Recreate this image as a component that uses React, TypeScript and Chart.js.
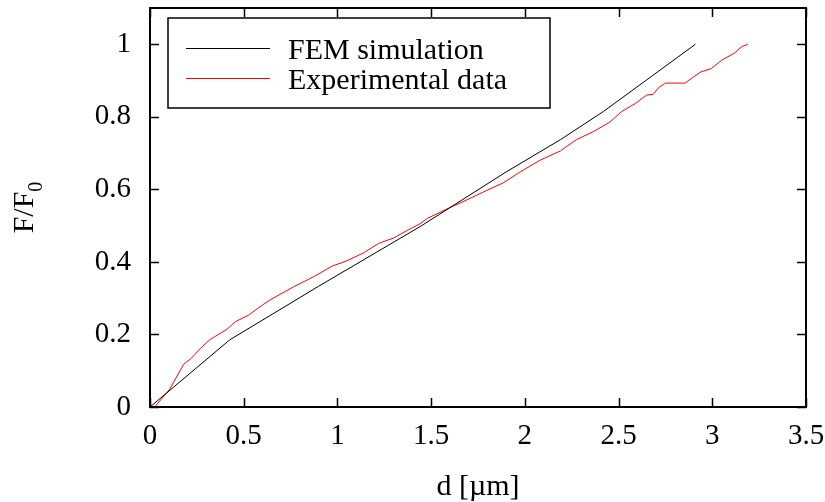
import React, { useEffect, useRef } from "react";
import { Chart, registerables } from "chart.js";

Chart.register(...registerables);

const FEM_LABEL = "FEM simulation";
const EXP_LABEL = "Experimental data";

const femX = [0, 0.425, 0.9, 1.44, 1.9, 2.19, 2.42, 2.91];
const femY = [0, 0.185, 0.333, 0.497, 0.648, 0.737, 0.815, 1.0];

const expX = [
  0.025, 0.105, 0.18, 0.22, 0.27, 0.32, 0.41, 0.455, 0.525, 0.6, 0.64, 0.765,
  0.88, 0.97, 1.05, 1.14, 1.22, 1.3, 1.37, 1.44, 1.48, 1.58, 1.67, 1.78, 1.885,
  1.975, 2.08, 2.19, 2.275, 2.365, 2.455, 2.515, 2.59, 2.65, 2.685, 2.715, 2.75,
  2.855, 2.9, 2.94, 2.995, 3.05, 3.12, 3.155, 3.19,
];
const expY = [
  0, 0.049, 0.118, 0.134, 0.162, 0.186, 0.214, 0.235, 0.253, 0.281, 0.295, 0.331,
  0.361, 0.388, 0.403, 0.425, 0.451, 0.466, 0.486, 0.505, 0.52, 0.545, 0.566,
  0.593, 0.618, 0.648, 0.68, 0.706, 0.737, 0.759, 0.786, 0.814, 0.837, 0.86,
  0.862, 0.881, 0.893, 0.893, 0.91, 0.924, 0.933, 0.956, 0.976, 0.993, 1.0,
];

const xTicks = [0, 0.5, 1, 1.5, 2, 2.5, 3, 3.5];
const yTicks = [0, 0.2, 0.4, 0.6, 0.8, 1];

const X_TITLE = "d [µm]";
const Y_TITLE_MAIN = "F/F";
const Y_TITLE_SUB = "0";

const FONT = "'Liberation Serif', 'Times New Roman', serif";

const frame = {
  id: "gnuplotFrame",
  afterDraw(chart: any) {
    const { ctx, chartArea } = chart;
    const { left, right, top, bottom } = chartArea;
    const xs = chart.scales.x;
    const ys = chart.scales.y;
    ctx.save();
    ctx.strokeStyle = "#000";
    ctx.lineWidth = 1.5;
    const tl = 9;
    ctx.beginPath();
    xTicks.forEach((v) => {
      const px = Math.round(xs.getPixelForValue(v)) + 0.5;
      ctx.moveTo(px, bottom);
      ctx.lineTo(px, bottom - tl);
      ctx.moveTo(px, top);
      ctx.lineTo(px, top + tl);
    });
    yTicks.forEach((v) => {
      const py = Math.round(ys.getPixelForValue(v)) + 0.5;
      ctx.moveTo(left, py);
      ctx.lineTo(left + tl, py);
      ctx.moveTo(right, py);
      ctx.lineTo(right - tl, py);
    });
    ctx.stroke();
    ctx.lineWidth = 2;
    ctx.strokeRect(left, top, right - left, bottom - top);

    // legend
    ctx.lineWidth = 1.5;
    ctx.fillStyle = "#fff";
    ctx.fillRect(168, 18, 382, 90);
    ctx.strokeStyle = "#000";
    ctx.strokeRect(168, 18, 382, 90);
    const ds = chart.data.datasets;
    const rows = [48, 78];
    ds.forEach((d: any, i: number) => {
      ctx.beginPath();
      ctx.strokeStyle = d.borderColor;
      ctx.lineWidth = 1;
      ctx.moveTo(186, rows[i] + 0.5);
      ctx.lineTo(270, rows[i] + 0.5);
      ctx.stroke();
      ctx.fillStyle = "#000";
      ctx.font = `30px ${FONT}`;
      ctx.textAlign = "left";
      ctx.textBaseline = "alphabetic";
      ctx.fillText(d.label, 288, rows[i] + 11);
    });

    ctx.fillStyle = "#000";
    ctx.font = `30px ${FONT}`;
    ctx.textAlign = "center";
    ctx.textBaseline = "middle";
    ctx.fillText(X_TITLE, (left + right) / 2, 487);

    ctx.save();
    ctx.translate(33, (top + bottom) / 2);
    ctx.rotate(-Math.PI / 2);
    ctx.textAlign = "left";
    ctx.textBaseline = "alphabetic";
    ctx.font = `30px ${FONT}`;
    const w1 = ctx.measureText(Y_TITLE_MAIN).width;
    ctx.font = `20px ${FONT}`;
    const w2 = ctx.measureText(Y_TITLE_SUB).width;
    const start = -(w1 + w2) / 2;
    ctx.font = `30px ${FONT}`;
    ctx.fillText(Y_TITLE_MAIN, start, 0);
    ctx.font = `20px ${FONT}`;
    ctx.fillText(Y_TITLE_SUB, start + w1, 9);
    ctx.restore();

    ctx.restore();
  },
};

export default function App() {
  const ref = useRef<HTMLCanvasElement | null>(null);
  useEffect(() => {
    if (!ref.current) return;
    const chart = new Chart(ref.current, {
      type: "line",
      data: {
        datasets: [
          {
            label: FEM_LABEL,
            data: femX.map((x, i) => ({ x, y: femY[i] })),
            borderColor: "#000000",
            borderWidth: 1,
            pointRadius: 0,
            tension: 0,
            fill: false,
          },
          {
            label: EXP_LABEL,
            data: expX.map((x, i) => ({ x, y: expY[i] })),
            borderColor: "#ff0000",
            borderWidth: 1,
            pointRadius: 0,
            tension: 0,
            fill: false,
          },
        ],
      },
      options: {
        animation: false,
        responsive: false,
        layout: { padding: { top: 8, right: 19, left: 0, bottom: 0 } },
        plugins: {
          legend: { display: false },
          tooltip: { enabled: false },
        },
        scales: {
          x: {
            type: "linear",
            min: 0,
            max: 3.5,
            grid: { display: false, drawTicks: false },
            border: { display: false },
            afterBuildTicks: (s: any) => {
              s.ticks = xTicks.map((v) => ({ value: v }));
            },
            afterFit: (s: any) => {
              s.height = 95;
              s.paddingLeft = 0;
              s.paddingRight = 0;
              s.paddingTop = 0;
              s.paddingBottom = 0;
            },
            ticks: {
              color: "#000",
              padding: 12,
              maxRotation: 0,
              font: { family: FONT, size: 29 },
              callback: (v: any) => String(Math.round(Number(v) * 10) / 10),
            },
          },
          y: {
            type: "linear",
            min: 0,
            max: 1.1,
            grid: { display: false, drawTicks: false },
            border: { display: false },
            afterBuildTicks: (s: any) => {
              s.ticks = yTicks.map((v) => ({ value: v }));
            },
            afterFit: (s: any) => {
              s.width = 150;
              s.paddingLeft = 0;
              s.paddingRight = 0;
              s.paddingTop = 0;
              s.paddingBottom = 0;
            },
            ticks: {
              color: "#000",
              padding: 19,
              font: { family: FONT, size: 29 },
              callback: (v: any) => String(Math.round(Number(v) * 10) / 10),
            },
          },
        },
      },
      plugins: [frame],
    });
    return () => chart.destroy();
  }, []);
  return (
    <div style={{ position: "fixed", left: 0, top: 0, width: 825, height: 502, background: "#fff" }}>
      <canvas ref={ref} width={825} height={502} />
    </div>
  );
}
